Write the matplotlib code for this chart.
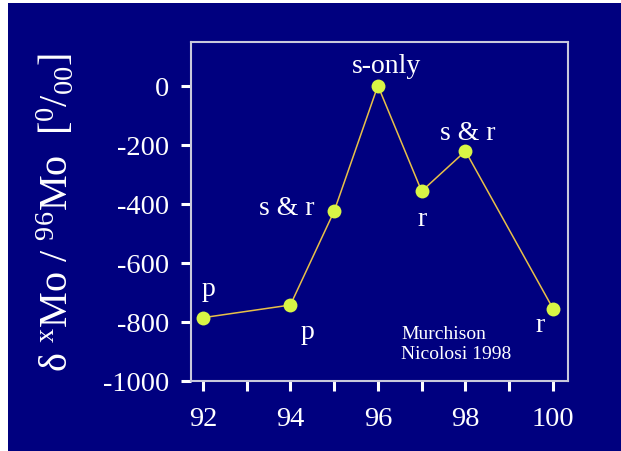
import matplotlib.pyplot as plt
from matplotlib.patches import Rectangle
from matplotlib.ticker import MultipleLocator, FixedLocator

plt.rcParams['font.family'] = ['Liberation Serif', 'DejaVu Serif']
plt.rcParams['mathtext.fontset'] = 'custom'
plt.rcParams['mathtext.rm'] = 'Liberation Serif'
plt.rcParams['mathtext.it'] = 'Liberation Serif:italic'
plt.rcParams['axes.unicode_minus'] = False

# Mo isotope anomalies, Murchison (Nicolosi 1998)
mass = [92, 94, 95, 96, 97, 98, 100]
delta = [-787, -744, -426, 0, -358, -222, -756]
process = ['p', 'p', 's & r', 's-only', 'r', 's & r', 'r']
# label offsets in pixels (dx, dy) relative to each point
offsets = [(6, 23), (17, -33), (-47, -3), (9, 14), (0, -34), (2, 12), (-13, -22)]

navy = '#00007f'
fig = plt.figure(figsize=(6.21, 4.52), dpi=100, facecolor='white')
fig.patches.append(Rectangle((8 / 621, 0), 1, 1 - 4 / 452, transform=fig.transFigure,
                             facecolor=navy, edgecolor='none', zorder=-10))

ax = fig.add_axes([191 / 621, 1 - 381.5 / 452, (568.3 - 191) / 621, (381.5 - 43.3) / 452])
ax.set_facecolor(navy)

ax.plot(mass, delta, color='#e8c048', lw=1.1, zorder=2)
ax.plot(mass, delta, 'o', color='#d8f545', ms=10, mec='none', zorder=3)

for x, y, lab, (dx, dy) in zip(mass, delta, process, offsets):
    ax.annotate(lab, (x, y), xytext=(dx, dy), textcoords='offset pixels',
                ha='center', va='baseline', color='white', fontsize=20)

ax.text(401, 452 - 359, 'Murchison\nNicolosi 1998', transform=None,
        color='white', fontsize=14, ha='left', va='baseline', linespacing=1.2)

ax.set_xlim(91.73, 100.35)
ax.set_ylim(-1000, 147)
ax.xaxis.set_major_locator(FixedLocator([92, 94, 96, 98, 100]))
ax.xaxis.set_minor_locator(FixedLocator([93, 95, 97, 99]))
ax.yaxis.set_major_locator(MultipleLocator(200))

for s in ax.spines.values():
    s.set_color('#c8c8dc')
    s.set_linewidth(1.5)
ax.tick_params(which='both', direction='out', color='white', width=2.2,
               length=7.5, labelcolor='white', labelsize=20.5, pad=11)
ax.tick_params(axis='y', pad=8)

ax.set_ylabel(r'δ $^{\mathrm{x}}$Mo / $^{96}$Mo  [$^{0}/_{00}$]',
              color='white', fontsize=29, labelpad=19)

fig.savefig('out.png', dpi=100, facecolor='white')
